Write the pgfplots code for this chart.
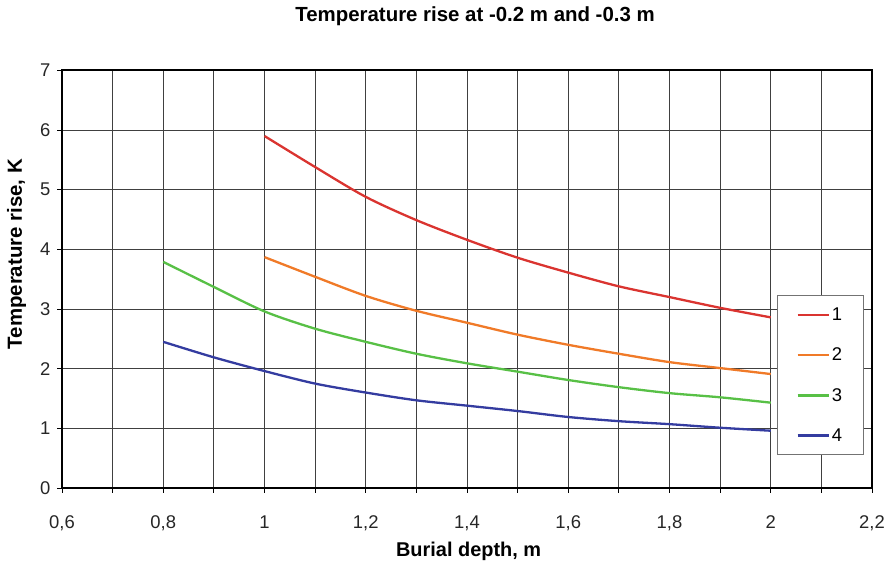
\documentclass[border=0pt]{standalone}
\usepackage{pgfplots}
\pgfplotsset{compat=1.18}
\usepackage{fontspec}
\setmainfont{Liberation Sans}
\definecolor{cRed}{RGB}{218,52,48}
\definecolor{cOrange}{RGB}{240,122,40}
\definecolor{cGreen}{RGB}{88,192,70}
\definecolor{cBlue}{RGB}{52,60,160}
\begin{document}
\begin{tikzpicture}
\begin{axis}[
  scale only axis,
  width=810bp, height=417.6bp,
  xmin=0.6, xmax=2.2, ymin=0, ymax=7,
  xtick={0.6,0.8,...,2.21},
  minor xtick={0.7,0.9,...,2.11},
  ytick={0,1,...,7},
  grid=both,
  major grid style={black!75, line width=0.8bp},
  minor grid style={black!75, line width=0.8bp},
  axis line style={black, line width=1.8bp},
  tick align=outside,
  major tick length=5bp, minor tick length=5bp,
  tick style={black, line width=0.8bp},
  xtick pos=bottom, ytick pos=left,
  /pgf/number format/assume math mode=true,
  /pgf/number format/use comma,
  tick label style={font=\fontsize{18.5}{18.5}\selectfont, text=black!85},
  xticklabel style={yshift=-19bp},
  yticklabel style={xshift=-3bp},
  title={Temperature rise at -0.2 m and -0.3 m},
  title style={font=\fontsize{20.5}{20.5}\selectfont\bfseries, at={(rel axis cs:0.51,1)}, anchor=base, yshift=43bp},
  xlabel={Burial depth, m},
  xlabel style={font=\fontsize{20}{20}\selectfont\bfseries, at={(rel axis cs:0.502,0)}, anchor=base, yshift=-69bp},
  ylabel={Temperature rise, K},
  ylabel style={font=\fontsize{20.5}{20.5}\selectfont\bfseries, at={(rel axis cs:-0.0494,0.56)}, anchor=base},
  legend style={at={(rel axis cs:0.8827,0.4612)}, anchor=north west,
    draw=black!55, line width=0.8bp, fill=white,
    font=\fontsize{18.5}{18.5}\selectfont,
    inner xsep=19bp, inner ysep=10bp, row sep=22bp},
  legend cell align=left,
  legend image code/.code={\draw[#1, line width=2.5bp] (0bp,0bp) -- (31bp,0bp);},
  every axis plot/.append style={line width=2.3bp, smooth},
]
\addplot[cRed] coordinates {(1.0,5.90) (1.1,5.38) (1.2,4.88) (1.3,4.49) (1.4,4.16) (1.5,3.86) (1.6,3.61) (1.7,3.38) (1.8,3.20) (1.9,3.02) (2.0,2.86)};
\addlegendentry{1}
\addplot[cOrange] coordinates {(1.0,3.87) (1.1,3.54) (1.2,3.22) (1.3,2.97) (1.4,2.77) (1.5,2.57) (1.6,2.40) (1.7,2.25) (1.8,2.11) (1.9,2.01) (2.0,1.91)};
\addlegendentry{2}
\addplot[cGreen] coordinates {(0.8,3.79) (0.9,3.37) (1.0,2.96) (1.1,2.67) (1.2,2.45) (1.3,2.25) (1.4,2.09) (1.5,1.95) (1.6,1.81) (1.7,1.69) (1.8,1.59) (1.9,1.52) (2.0,1.43)};
\addlegendentry{3}
\addplot[cBlue] coordinates {(0.8,2.45) (0.9,2.19) (1.0,1.96) (1.1,1.75) (1.2,1.60) (1.3,1.47) (1.4,1.38) (1.5,1.29) (1.6,1.19) (1.7,1.12) (1.8,1.07) (1.9,1.01) (2.0,0.96)};
\addlegendentry{4}
\coordinate (SW) at (rel axis cs:0,0);
\coordinate (NE) at (rel axis cs:1,1);
\end{axis}
\pgfresetboundingbox
\path ([shift={(-62bp,-81.4bp)}]SW) rectangle ([shift={(23bp,70.4bp)}]NE);
\end{tikzpicture}
\end{document}
